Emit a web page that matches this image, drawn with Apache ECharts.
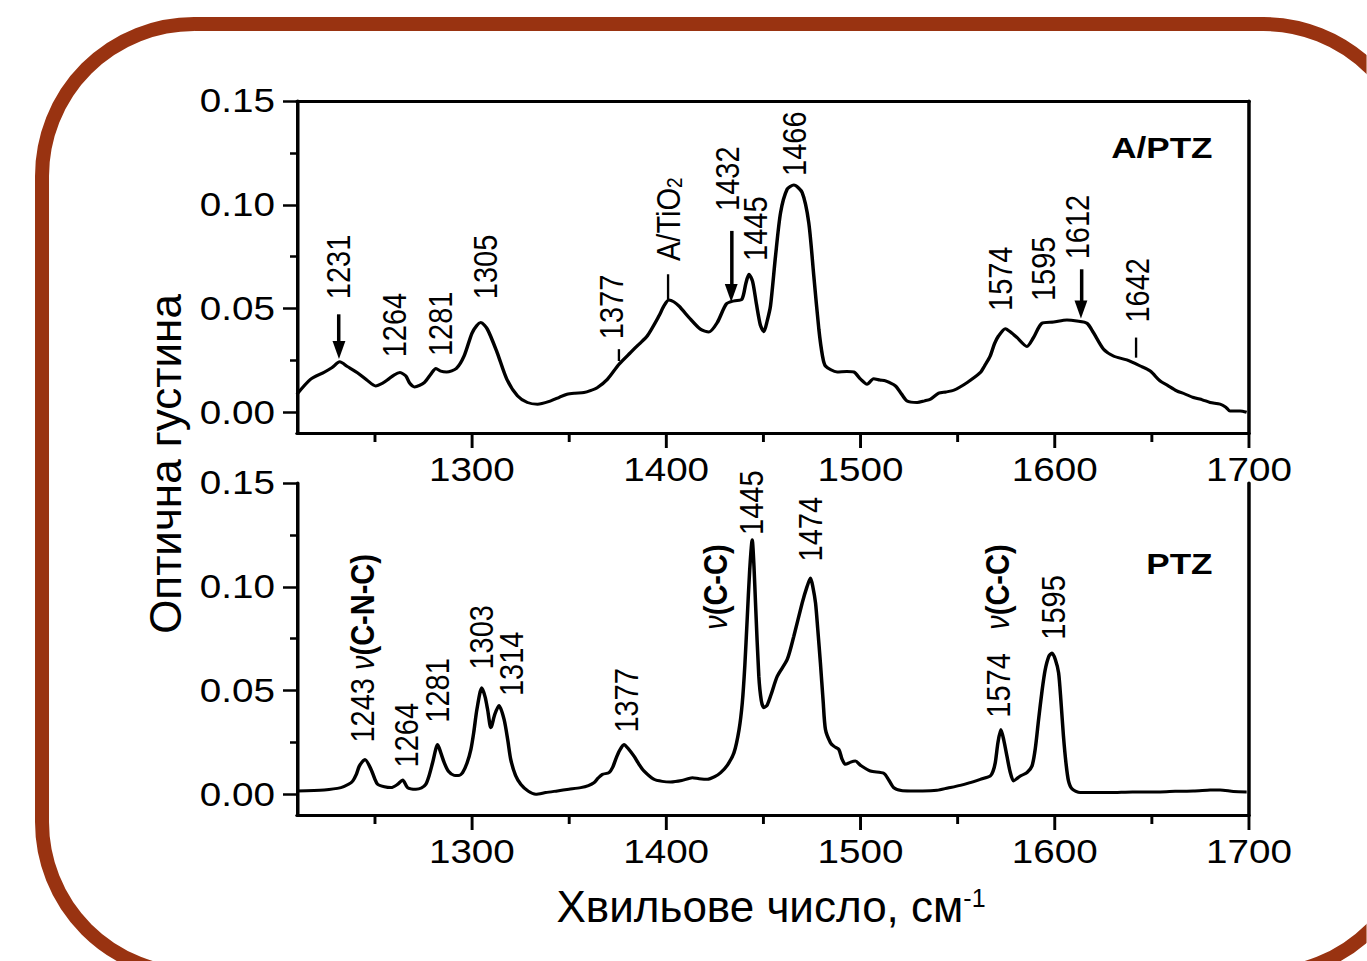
<!DOCTYPE html>
<html>
<head>
<meta charset="utf-8">
<script src="https://cdn.jsdelivr.net/npm/echarts@6/dist/echarts.min.js"></script>
<style>
  html, body { margin: 0; padding: 0; background: #fff; overflow: hidden; }
  #chart { height: 961px; transform-origin: 0 0; }
</style>
</head>
<body>
<div id="chart"></div>
<script>
// A/PTZ spectrum (top panel)
const wnAPTZ = [1210, 1217, 1224, 1228, 1232, 1236, 1241, 1246, 1250.5, 1254, 1257, 1260, 1263, 1266, 1268, 1270.5,
  1275.5, 1279, 1281.5, 1284, 1287, 1292, 1296, 1300, 1302.5, 1304.6, 1308, 1313, 1318, 1323.5, 1328.6, 1333.8,
  1340.6, 1345, 1349, 1353, 1357.7, 1361, 1364.6, 1369.8, 1375.7, 1381.7, 1386, 1390.3, 1396.3, 1399, 1401.4, 1404,
  1406.6, 1412.6, 1417.7, 1422, 1426.3, 1431, 1435, 1439, 1441, 1442.6, 1444.5, 1446.5, 1448.5, 1450.3, 1452, 1453.7,
  1456.3, 1458.9, 1462.3, 1465.7, 1470, 1473.4, 1476, 1478.6, 1480.5, 1482, 1488, 1493, 1496.6, 1500, 1503.4, 1506.8,
  1510, 1512.9, 1518, 1521, 1524, 1529.2, 1533, 1536, 1540.3, 1544, 1548, 1554.9, 1561.7, 1564, 1566.8, 1569, 1571.1,
  1574.6, 1577.5, 1580.6, 1585.7, 1589.1, 1593.4, 1599.4, 1606.3, 1611.4, 1616.6, 1619.9, 1625.1, 1630.2, 1637.1,
  1644, 1649.1, 1654.2, 1658, 1662.8, 1667, 1671.4, 1676, 1680, 1685.1, 1688, 1690.2, 1695.4, 1698.8];
const odAPTZ = [0.0087, 0.0159, 0.0193, 0.0215, 0.0243, 0.022, 0.0191, 0.0155, 0.0127, 0.014, 0.0159, 0.018, 0.0191,
  0.0175, 0.014, 0.0122, 0.0143, 0.0185, 0.0211, 0.0198, 0.0194, 0.0211, 0.0271, 0.038, 0.0418, 0.0432, 0.040, 0.0288,
  0.0159, 0.0079, 0.0047, 0.0039, 0.0055, 0.0072, 0.0087, 0.0092, 0.0095, 0.0104, 0.0119, 0.0159, 0.0231, 0.0288,
  0.0328, 0.0368, 0.0464, 0.0515, 0.0541, 0.0532, 0.0512, 0.0448, 0.040, 0.0387, 0.0432, 0.0522, 0.0537, 0.0545,
  0.062, 0.0665, 0.063, 0.052, 0.042, 0.0388, 0.044, 0.0512, 0.0753, 0.0962, 0.1075, 0.1095, 0.1059, 0.0914, 0.0657,
  0.040, 0.027, 0.0223, 0.0194, 0.0196, 0.0194, 0.016, 0.0135, 0.0162, 0.0155, 0.0151, 0.0127, 0.009, 0.0054, 0.0047,
  0.0055, 0.0063, 0.0092, 0.0098, 0.0106, 0.0143, 0.0191, 0.0225, 0.0271, 0.033, 0.0368, 0.0403, 0.0385, 0.036,
  0.0317, 0.036, 0.0429, 0.0435, 0.0445, 0.044, 0.0429, 0.0384, 0.0304, 0.0271, 0.0252, 0.0223, 0.0199, 0.0151,
  0.013, 0.0103, 0.0088, 0.0071, 0.006, 0.0047, 0.0039, 0.0025, 0.0006, 0.0006, 0.0];

// PTZ spectrum (bottom panel)
const wnPTZ = [1210, 1224, 1232.6, 1236.5, 1238.7, 1240.5, 1242.1, 1245, 1248.1, 1250, 1251.5, 1255, 1258.4, 1261.8,
  1264.4, 1266.9, 1271.2, 1274, 1276.3, 1278, 1279.8, 1282.4, 1284, 1285.8, 1288, 1290.9, 1293, 1295.2, 1297.5, 1299.5,
  1301, 1302.6, 1305.1, 1306.8, 1308.1, 1309.8, 1311.8, 1314, 1316.6, 1318.5, 1320, 1322.5, 1325.2, 1329, 1332.9, 1338,
  1344, 1350, 1356, 1360, 1362.9, 1365, 1367.2, 1370.6, 1372.5, 1374, 1376, 1378.3, 1380.5, 1383.4, 1386, 1388.6,
  1393.7, 1398, 1402.3, 1408, 1413.5, 1417, 1421.2, 1425, 1428, 1431.5, 1434.9, 1437.5, 1439.2, 1440.5, 1441.7, 1443,
  1444.3, 1445.2, 1446, 1447.7, 1449, 1450.3, 1452, 1454, 1457.2, 1462.3, 1465.7, 1470, 1472.5, 1474.3, 1475.5, 1476.9,
  1478, 1479.4, 1480.8, 1482, 1484.6, 1486.5, 1488.9, 1490.5, 1492.3, 1495, 1497.4, 1500, 1505.1, 1512, 1514.5, 1517.1,
  1521, 1525.7, 1532, 1539.4, 1545, 1551.4, 1556, 1561.7, 1566.8, 1568.2, 1569.4, 1570.8, 1572.3, 1573.8, 1575.4, 1577,
  1578.8, 1580.5, 1582.3, 1585.7, 1588.3, 1590, 1591.7, 1593.5, 1595.1, 1597, 1598.6, 1600.3, 1602, 1603.2, 1604.5,
  1605.8, 1607.1, 1609, 1613.1, 1620, 1628.5, 1640, 1654.2, 1662, 1671.4, 1680, 1685.1, 1692, 1698.8];
const odPTZ = [0.0016, 0.0021, 0.0032, 0.0048, 0.0064, 0.0095, 0.0136, 0.0168, 0.012, 0.0075, 0.0048, 0.0036, 0.0032,
  0.0048, 0.0069, 0.0032, 0.0024, 0.003, 0.0048, 0.009, 0.0152, 0.024, 0.02, 0.0152, 0.011, 0.0091, 0.009, 0.0104,
  0.015, 0.0216, 0.03, 0.0409, 0.0513, 0.047, 0.0409, 0.032, 0.0385, 0.0428, 0.036, 0.026, 0.0168, 0.009, 0.0048,
  0.0015, 0.0, 0.0008, 0.0016, 0.0024, 0.0032, 0.0042, 0.0056, 0.0078, 0.0096, 0.0104, 0.013, 0.0168, 0.021, 0.024,
  0.022, 0.0184, 0.0145, 0.0112, 0.0072, 0.0062, 0.0059, 0.0066, 0.008, 0.0075, 0.0072, 0.0085, 0.0104, 0.014, 0.02,
  0.031, 0.0441, 0.062, 0.0841, 0.108, 0.1226, 0.11, 0.0921, 0.0569, 0.045, 0.0417, 0.043, 0.048, 0.0569, 0.0649,
  0.0761, 0.0921, 0.1, 0.1042, 0.1, 0.0921, 0.08, 0.0633, 0.045, 0.0312, 0.0248, 0.023, 0.0216, 0.017, 0.0144, 0.0155,
  0.016, 0.014, 0.0112, 0.0101, 0.007, 0.0032, 0.0018, 0.0016, 0.0016, 0.0019, 0.003, 0.0043, 0.0055, 0.0072, 0.0088,
  0.011, 0.0152, 0.025, 0.0312, 0.026, 0.0184, 0.011, 0.0064, 0.0075, 0.0088, 0.0104, 0.0136, 0.022, 0.036, 0.05,
  0.06, 0.0665, 0.0681, 0.065, 0.0585, 0.045, 0.028, 0.015, 0.0064, 0.0025, 0.0008, 0.0008, 0.0008, 0.0011, 0.0011,
  0.0014, 0.0016, 0.002, 0.0021, 0.0013, 0.0011];

// axis ticks
const xLabelValues = [1300, 1400, 1500, 1600, 1700];
const xMinorValues = [1250, 1350, 1450, 1550, 1650];
const yLabelValues = [0, 0.05, 0.10, 0.15];
const yMinorValues = [0.025, 0.075, 0.125];

// peak annotations: [wavenumber, optical density at text start, text]
const labelsAPTZ = [
  [1231, 0.0545, '1231'], [1260, 0.0265, '1264'], [1283.5, 0.0271, '1281'], [1307, 0.0545, '1305'],
  [1371.5, 0.0352, '1377'], [1401, 0.0729, '{t|A/TiO}{sub|2}'], [1431.5, 0.097, '1432'], [1446, 0.0729, '1445'],
  [1465.7, 0.1139, '1466'], [1572, 0.0488, '1574'], [1594.2, 0.0536, '1595'], [1611.4, 0.0737, '1612'],
  [1642.2, 0.0432, '1642']
];
const labelsPTZ = [
  [1243.8, 0.0249, '1243 {nu|ν}{b|(C-N-C)}'], [1266, 0.0129, '1264'], [1282.4, 0.0345, '1281'],
  [1304.6, 0.0601, '1303'], [1320, 0.0473, '1314'], [1379.2, 0.0297, '1377'], [1425.4, 0.0793, '{nu|ν}{b|(C-C)}'],
  [1444, 0.125, '1445'], [1474.3, 0.1122, '1474'], [1570.3, 0.0793, '{nu|ν}{b|(C-C)}'], [1571.1, 0.0369, '1574'],
  [1599.4, 0.0745, '1595']
];
// arrows [wavenumber, from, to] and short marker dashes
const arrowsAPTZ = [[1231.6, 0.0472, 0.0300], [1433.5, 0.0874, 0.0575], [1613.5, 0.0689, 0.0495]];
const dashesAPTZ = [[1375.6, 0.0304, 0.0247], [1401, 0.0665, 0.0545], [1641.7, 0.036, 0.0263]];

const STRETCH = 1.17;              // the figure body is stretched horizontally
const W = 1367 / STRETCH;
const sx = v => v / STRETCH;       // screen px -> chart px
const FONT = "'Liberation Sans', Arial, sans-serif";
const BLACK = '#000';

const chartDom = document.getElementById('chart');
chartDom.style.width = W + 'px';
chartDom.style.transform = 'scaleX(' + STRETCH + ')';

const lineStyle = { color: BLACK, width: 3 };
const labelRich = {
  t: { fontSize: 29, fontFamily: FONT, color: BLACK, lineHeight: 29, verticalAlign: 'top' },
  sub: { fontSize: 19, fontFamily: FONT, color: BLACK, lineHeight: 19, verticalAlign: 'bottom', padding: [20, 0, 0, 0] },
  nu: { fontSize: 29, fontFamily: FONT, color: BLACK, fontStyle: 'italic' },
  b: { fontSize: 29, fontFamily: FONT, color: BLACK, fontWeight: 'bold' }
};

const makeXAxes = (grid, frameTop) => {
  const base = { gridIndex: grid, type: 'value', min: 1210, max: 1700, position: 'bottom', splitLine: { show: false } };
  const axes = [
    Object.assign({}, base, {
      axisLine: { onZero: false, lineStyle },
      axisTick: { customValues: xLabelValues, length: 15, lineStyle: { color: BLACK, width: 2.5 } },
      axisLabel: {
        customValues: xLabelValues, fontSize: 33, color: BLACK, fontFamily: FONT, margin: 20,
        formatter: v => String(v)
      }
    }),
    Object.assign({}, base, {
      axisLine: { show: false, onZero: false },
      axisTick: { customValues: xMinorValues, length: 9, lineStyle: { color: BLACK, width: 2.5 } },
      axisLabel: { show: false }
    })
  ];
  if (frameTop) {
    axes.push(Object.assign({}, base, {
      position: 'top', axisLine: { onZero: false, lineStyle }, axisTick: { show: false }, axisLabel: { show: false }
    }));
  }
  return axes;
};

const makeYAxes = (grid) => {
  const base = { gridIndex: grid, type: 'value', min: -0.01, max: 0.15, position: 'left', splitLine: { show: false } };
  return [
    Object.assign({}, base, {
      axisLine: { onZero: false, lineStyle },
      axisTick: { customValues: yLabelValues, length: sx(14), lineStyle: { color: BLACK, width: 2.5 } },
      axisLabel: {
        customValues: yLabelValues, fontSize: 33, color: BLACK, fontFamily: FONT, margin: sx(22),
        formatter: v => v.toFixed(2)
      }
    }),
    Object.assign({}, base, {
      axisLine: { show: false, onZero: false },
      axisTick: { customValues: yMinorValues, length: sx(7), lineStyle: { color: BLACK, width: 2.5 } },
      axisLabel: { show: false }
    }),
    Object.assign({}, base, {
      position: 'right', axisLine: { onZero: false, lineStyle }, axisTick: { show: false }, axisLabel: { show: false }
    })
  ];
};

const peakMarks = (labels) => ({
  symbol: 'circle',
  symbolSize: 1,
  itemStyle: { color: 'transparent' },
  silent: true,
  animation: false,
  label: {
    show: true, position: 'inside', rotate: 90, align: 'left', verticalAlign: 'middle',
    fontSize: 29, fontFamily: FONT, color: BLACK, rich: labelRich,
    formatter: p => p.name
  },
  data: labels.map(([wn, od, text]) => ({ name: text, coord: [wn, od] }))
});

const pointerLines = (arrows, dashes) => ({
  silent: true,
  animation: false,
  label: { show: false },
  data: arrows.map(([wn, a, b]) => [
    { coord: [wn, a], symbol: 'none', lineStyle: { color: BLACK, width: 3, type: 'solid' } },
    { coord: [wn, b], symbol: 'triangle', symbolSize: [11, 18] }
  ]).concat(dashes.map(([wn, a, b]) => [
    { coord: [wn, a], symbol: 'none', lineStyle: { color: BLACK, width: 2, type: 'solid' } },
    { coord: [wn, b], symbol: 'none' }
  ]))
});

const xAxes = makeXAxes(0, true).concat(makeXAxes(1, false));
const yAxes = makeYAxes(0).concat(makeYAxes(1));

const option = {
  animation: false,
  backgroundColor: '#fff',
  title: [
    { text: 'A/PTZ', right: W - sx(1213), top: 132, padding: 0,
      textStyle: { fontSize: 30, fontWeight: 'bold', color: BLACK, fontFamily: FONT } },
    { text: 'PTZ', right: W - sx(1213), top: 548, padding: 0,
      textStyle: { fontSize: 30, fontWeight: 'bold', color: BLACK, fontFamily: FONT } }
  ],
  grid: [
    { left: sx(297), width: sx(952), top: 101, height: 332 },
    { left: sx(297), width: sx(952), top: 483, height: 332 }
  ],
  xAxis: xAxes,
  yAxis: yAxes,
  series: [
    {
      name: 'A/PTZ', type: 'line', xAxisIndex: 0, yAxisIndex: 0,
      data: wnAPTZ.map((w, i) => [w, odAPTZ[i]]),
      symbol: 'none', smooth: 0.25, lineStyle: { color: BLACK, width: 3 },
      markPoint: peakMarks(labelsAPTZ),
      markLine: pointerLines(arrowsAPTZ, dashesAPTZ)
    },
    {
      name: 'PTZ', type: 'line', xAxisIndex: 3, yAxisIndex: 3,
      data: wnPTZ.map((w, i) => [w, odPTZ[i]]),
      symbol: 'none', smooth: 0.25, lineStyle: { color: BLACK, width: 3 },
      markPoint: peakMarks(labelsPTZ)
    }
  ],
  // frame and axis titles sit outside the stretched figure, so undo the stretch
  graphic: [{
    type: 'group', x: 0, y: 0, scaleX: 1 / STRETCH, silent: true,
    children: [
      {
        type: 'rect', shape: { x: 42, y: 24, width: 1373, height: 950, r: 152 },
        style: { fill: 'none', stroke: '#993311', lineWidth: 14 }
      },
      {
        type: 'text', x: 771, y: 907,
        style: {
          text: '{a|Хвильове число, см}{s|-1}', align: 'center', verticalAlign: 'middle',
          rich: {
            a: { fontSize: 44, fontFamily: FONT, fill: BLACK, lineHeight: 44 },
            s: { fontSize: 25, fontFamily: FONT, fill: BLACK, lineHeight: 25, verticalAlign: 'top' }
          }
        }
      },
      {
        type: 'text', x: 165, y: 464, rotation: Math.PI / 2,
        style: {
          text: 'Оптична густина', align: 'center', verticalAlign: 'middle',
          fontSize: 44, fontFamily: FONT, fill: BLACK
        }
      }
    ]
  }]
};

echarts.init(chartDom, null, { renderer: 'svg' }).setOption(option);
</script>
</body>
</html>
